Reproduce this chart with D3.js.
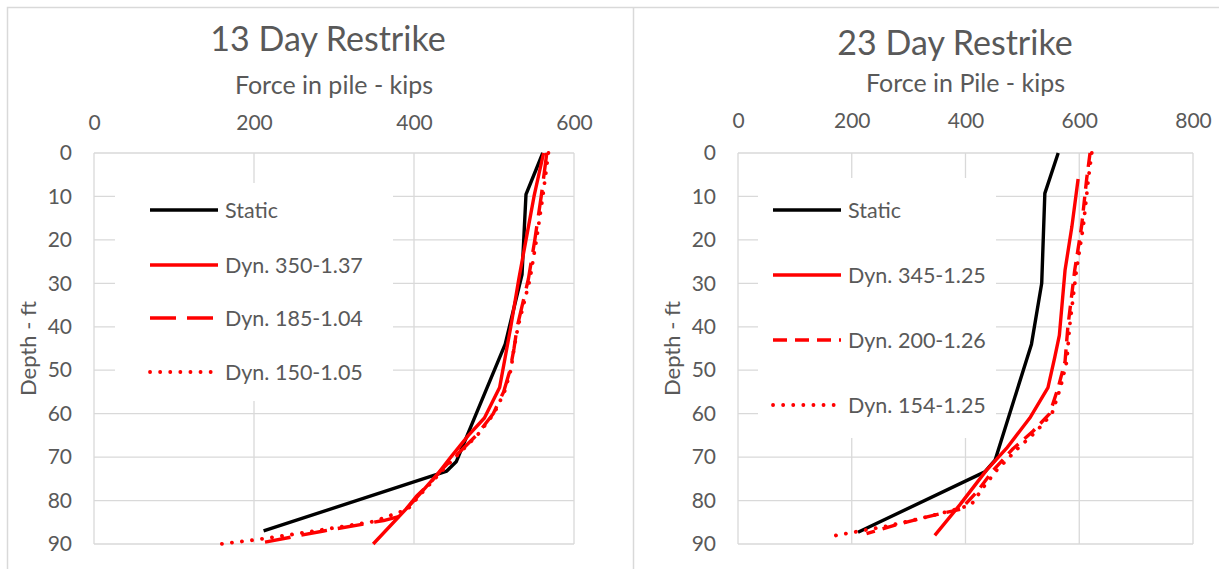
<!DOCTYPE html>
<html>
<head>
<meta charset="utf-8">
<script src="https://cdn.jsdelivr.net/npm/d3@7"></script>
<style>
  html, body { margin: 0; padding: 0; background: #fff; }
  svg { display: block; }
  text { font-family: Lato, "Open Sans", sans-serif; fill: #595959; }
</style>
</head>
<body>
<svg id="chart" width="1219" height="569"></svg>
<script>
// Pile force profiles: each point is [depth (ft), force (kips)]
const depthTicks = [0, 10, 20, 30, 40, 50, 60, 70, 80, 90];
const forceTicks13 = [0, 200, 400, 600];
const forceTicks23 = [0, 200, 400, 600, 800];

// 13 day restrike
const names13 = ["Static", "Dyn. 350-1.37", "Dyn. 185-1.04", "Dyn. 150-1.05"];
const static13 = [[0, 561], [9.5, 540], [28, 535], [44, 514], [71, 453], [73.2, 441], [87, 212]];
const dyn350_137 = [[0, 562], [10, 550], [20, 540], [29, 531], [40, 521], [45, 516], [54, 507], [61, 488],
  [65, 468], [70, 446], [74, 429], [80, 400], [90, 349]];
const dyn185_104 = [[0, 566], [10, 559], [20, 551], [29, 543], [40, 529], [45, 525], [50, 520], [55, 512],
  [60, 499], [65, 478], [69, 456], [73, 434], [76, 420], [79, 403], [82, 390], [83.5, 385], [84.6, 362],
  [87, 287], [90, 201]];
const dyn150_105 = [[0, 568], [10, 561], [20, 553], [29, 545], [40, 530], [45, 525], [50, 521], [55, 513],
  [60, 500], [65, 479], [69, 457], [73, 436], [78, 411], [82, 392], [84.8, 350], [86.2, 303], [88, 241],
  [89.2, 195], [90, 158]];

// 23 day restrike
const names23 = ["Static", "Dyn. 345-1.25", "Dyn. 200-1.26", "Dyn. 154-1.25"];
const static23 = [[0, 563], [9.3, 539.5], [30, 534], [44, 516], [70.7, 452], [73.4, 434], [87.3, 211]];
const dyn345_125 = [[6, 598], [17, 587], [27, 575], [42, 565], [47, 557], [54, 545], [61, 513], [68, 472],
  [73, 437], [81, 390], [88, 346]];
const dyn200_126 = [[0, 619], [6, 613], [17, 604], [27, 592], [40, 580], [48, 575], [54, 563], [60, 548],
  [64, 519], [68, 484], [73, 449], [78, 420], [82, 392], [83, 357], [84, 325], [85.5, 280], [87.6, 226]];
const dyn154_125 = [[0, 622], [6, 616], [17, 607], [27, 595], [40, 583], [48, 578], [54, 567], [60, 552],
  [64, 525], [68, 492], [73, 455], [77, 431], [81, 410], [82.5, 370], [84, 325], [86, 258], [87, 215],
  [88.4, 157]];

const GRID = "#d9d9d9";
const styles = {
  black:    { color: "#000000", width: 3.4, dash: null, cap: "butt" },
  solid:    { color: "#ff0000", width: 3.4, dash: null, cap: "butt" },
  longDash: { color: "#ff0000", width: 3.4, dash: "26,11", cap: "butt" },
  dash:     { color: "#ff0000", width: 3.4, dash: "14,8", cap: "butt" },
  dot:      { color: "#ff0000", width: 3.8, dash: "0.1,10", cap: "round" }
};

const svg = d3.select("#chart");
svg.append("rect").attr("width", 1219).attr("height", 569).attr("fill", "#fff");

// panel frames
svg.append("path")
  .attr("d", "M7.5,569 V7.5 H1219 M633.5,7.5 V569")
  .attr("fill", "none").attr("stroke", GRID).attr("stroke-width", 1.5);

const panels = [
  {
    title: "13 Day Restrike", xTitle: "Force in pile - kips", xMax: 600, xTicks: forceTicks13,
    left: 94, right: 574, titleX: 328, titleY: 51, xTitleY: 94, xTickPad: 23,
    yTickPad: 22, yTitleX: 36,
    legendBox: [115, 183, 278, 218], legendX: 150, legendY: [210, 265, 318, 372],
    series: [static13, dyn350_137, dyn185_104, dyn150_105], names: names13,
    look: ["black", "solid", "longDash", "dot"]
  },
  {
    title: "23 Day Restrike", xTitle: "Force in Pile - kips", xMax: 800, xTicks: forceTicks23,
    left: 738, right: 1193, titleX: 955, titleY: 55, xTitleY: 92, xTickPad: 25,
    yTickPad: 22, yTitleX: 680,
    legendBox: [758, 178, 238, 260], legendX: 773, legendY: [210, 275, 340, 405],
    series: [static23, dyn345_125, dyn200_126, dyn154_125], names: names23,
    look: ["black", "solid", "dash", "dot"]
  }
];

const TOP = 153, BOTTOM = 544;

panels.forEach(p => {
  const x = d3.scaleLinear().domain([0, p.xMax]).range([p.left, p.right]);
  const y = d3.scaleLinear().domain([0, 90]).range([TOP, BOTTOM]);
  const g = svg.append("g");

  // gridlines
  g.append("g").selectAll("line").data(p.xTicks).join("line")
    .attr("x1", d => x(d)).attr("x2", d => x(d)).attr("y1", TOP).attr("y2", BOTTOM)
    .attr("stroke", GRID).attr("stroke-width", 1.3);
  g.append("g").selectAll("line").data(depthTicks).join("line")
    .attr("x1", p.left).attr("x2", p.right).attr("y1", d => y(d)).attr("y2", d => y(d))
    .attr("stroke", GRID).attr("stroke-width", 1.3);

  // axes (labels only)
  const ax = g.append("g").attr("transform", `translate(0,${TOP})`)
    .call(d3.axisTop(x).tickValues(p.xTicks).tickSize(0).tickPadding(p.xTickPad).tickFormat(d3.format("d")));
  ax.select(".domain").remove();
  ax.selectAll("text").attr("font-size", 21).attr("fill", "#595959");
  ax.attr("font-family", null);

  const ay = g.append("g").attr("transform", `translate(${p.left},0)`)
    .call(d3.axisLeft(y).tickValues(depthTicks).tickSize(0).tickPadding(p.yTickPad).tickFormat(d3.format("d")));
  ay.select(".domain").remove();
  ay.selectAll("text").attr("font-size", 21).attr("fill", "#595959");
  ay.attr("font-family", null);

  // titles
  g.append("text").attr("x", p.titleX).attr("y", p.titleY).attr("text-anchor", "middle")
    .attr("font-size", 34).text(p.title);
  g.append("text").attr("x", (p.left + p.right) / 2).attr("y", p.xTitleY).attr("text-anchor", "middle")
    .attr("font-size", 25).text(p.xTitle);
  g.append("text").attr("transform", `translate(${p.yTitleX},${(TOP + BOTTOM) / 2}) rotate(-90)`)
    .attr("text-anchor", "middle").attr("font-size", 22).text("Depth - ft");

  // series lines
  const line = d3.line().x(d => x(d[1])).y(d => y(d[0]));
  p.series.forEach((s, i) => {
    const st = styles[p.look[i]];
    g.append("path").datum(s).attr("d", line)
      .attr("fill", "none").attr("stroke", st.color).attr("stroke-width", st.width)
      .attr("stroke-dasharray", st.dash).attr("stroke-linecap", st.cap)
      .attr("stroke-linejoin", "round");
  });

  // legend
  const [bx, by, bw, bh] = p.legendBox;
  const lg = g.append("g");
  lg.append("rect").attr("x", bx).attr("y", by).attr("width", bw).attr("height", bh).attr("fill", "#fff");
  p.names.forEach((n, i) => {
    const st = styles[p.look[i]];
    const ly = p.legendY[i];
    lg.append("line").attr("x1", p.legendX).attr("x2", p.legendX + 68).attr("y1", ly).attr("y2", ly)
      .attr("stroke", st.color).attr("stroke-width", st.width)
      .attr("stroke-dasharray", st.dash).attr("stroke-linecap", st.cap);
    lg.append("text").attr("x", p.legendX + 75).attr("y", ly).attr("dy", "0.35em")
      .attr("font-size", 21.5).text(n);
  });
});
</script>
</body>
</html>
